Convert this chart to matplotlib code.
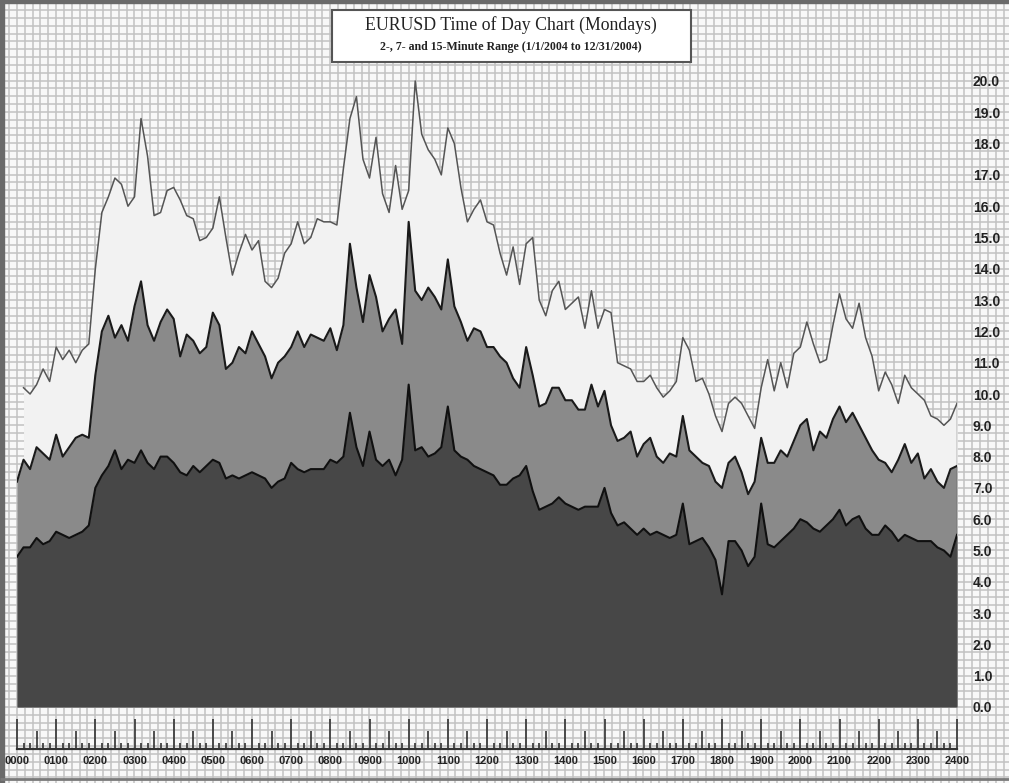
import numpy as np
import matplotlib.pyplot as plt
from matplotlib.patches import Rectangle

# minutes after midnight, one reading every 10 minutes (0000 .. 2400)
minutes = np.arange(0, 1441, 10)

# average 15-minute range (pips); first bar has no 15-minute value yet
range_15 = [None,
            10.2, 10.0, 10.3, 10.8, 10.4, 11.5, 11.1, 11.4, 11.0, 11.4,
            11.6, 14.0, 15.8, 16.3, 16.9, 16.7, 16.0, 16.3, 18.8, 17.6,
            15.7, 15.8, 16.5, 16.6, 16.2, 15.7, 15.6, 14.9, 15.0, 15.3,
            16.3, 15.0, 13.8, 14.5, 15.1, 14.6, 14.9, 13.6, 13.4, 13.7,
            14.5, 14.8, 15.5, 14.8, 15.0, 15.6, 15.5, 15.5, 15.4, 17.2,
            18.8, 19.5, 17.5, 16.9, 18.2, 16.4, 15.8, 17.3, 15.9, 16.5,
            20.0, 18.3, 17.8, 17.5, 17.0, 18.5, 18.0, 16.6, 15.5, 15.9,
            16.2, 15.5, 15.4, 14.5, 13.8, 14.7, 13.5, 14.8, 15.0, 13.0,
            12.5, 13.3, 13.6, 12.7, 12.9, 13.1, 12.1, 13.3, 12.1, 12.7,
            12.6, 11.0, 10.9, 10.8, 10.4, 10.4, 10.6, 10.2, 9.9, 10.1,
            10.4, 11.8, 11.4, 10.4, 10.5, 10.0, 9.3, 8.8, 9.7, 9.9,
            9.7, 9.3, 8.9, 10.2, 11.1, 10.1, 11.0, 10.2, 11.3, 11.5,
            12.3, 11.6, 11.0, 11.1, 12.2, 13.2, 12.4, 12.1, 12.9, 11.8,
            11.2, 10.1, 10.7, 10.3, 9.7, 10.6, 10.2, 10.0, 9.8, 9.3,
            9.2, 9.0, 9.2, 9.7]

# average 7-minute range
range_7 = [7.2, 7.9, 7.6, 8.3, 8.1, 7.9, 8.7, 8.0, 8.3, 8.6, 8.7,
           8.6, 10.6, 12.0, 12.5, 11.8, 12.2, 11.7, 12.8, 13.6, 12.2,
           11.7, 12.3, 12.7, 12.4, 11.2, 11.9, 11.7, 11.3, 11.5, 12.6,
           12.2, 10.8, 11.0, 11.5, 11.3, 12.0, 11.6, 11.2, 10.5, 11.0,
           11.2, 11.5, 12.0, 11.5, 11.9, 11.8, 11.7, 12.1, 11.4, 12.2,
           14.8, 13.4, 12.3, 13.8, 13.1, 12.0, 12.4, 12.7, 11.6, 15.5,
           13.3, 13.0, 13.4, 13.1, 12.7, 14.3, 12.8, 12.3, 11.7, 12.1,
           12.0, 11.5, 11.5, 11.2, 11.0, 10.5, 10.2, 11.5, 10.6, 9.6,
           9.7, 10.2, 10.2, 9.8, 9.8, 9.5, 9.5, 10.3, 9.6, 10.1,
           9.0, 8.5, 8.6, 8.8, 8.0, 8.4, 8.6, 8.0, 7.8, 8.1,
           8.0, 9.3, 8.2, 8.0, 7.8, 7.7, 7.2, 7.0, 7.8, 8.0,
           7.5, 6.8, 7.2, 8.6, 7.8, 7.8, 8.2, 8.0, 8.5, 9.0,
           9.2, 8.2, 8.8, 8.6, 9.2, 9.6, 9.1, 9.4, 9.0, 8.6,
           8.2, 7.9, 7.8, 7.5, 7.9, 8.4, 7.8, 8.1, 7.3, 7.6,
           7.2, 7.0, 7.6, 7.7]

# average 2-minute range
range_2 = [4.8, 5.1, 5.1, 5.4, 5.2, 5.3, 5.6, 5.5, 5.4, 5.5, 5.6,
           5.8, 7.0, 7.4, 7.7, 8.2, 7.6, 7.9, 7.8, 8.2, 7.8,
           7.6, 8.0, 8.0, 7.8, 7.5, 7.4, 7.7, 7.5, 7.7, 7.9,
           7.8, 7.3, 7.4, 7.3, 7.4, 7.5, 7.4, 7.3, 7.0, 7.2,
           7.3, 7.8, 7.6, 7.5, 7.6, 7.6, 7.6, 7.9, 7.8, 8.0,
           9.4, 8.3, 7.7, 8.8, 7.9, 7.7, 7.9, 7.4, 7.9, 10.3,
           8.2, 8.3, 8.0, 8.1, 8.3, 9.6, 8.2, 8.0, 7.9, 7.7,
           7.6, 7.5, 7.4, 7.1, 7.1, 7.3, 7.4, 7.7, 6.9, 6.3,
           6.4, 6.5, 6.7, 6.5, 6.4, 6.3, 6.4, 6.4, 6.4, 7.0,
           6.2, 5.8, 5.9, 5.7, 5.5, 5.7, 5.5, 5.6, 5.5, 5.4,
           5.5, 6.5, 5.2, 5.3, 5.4, 5.1, 4.7, 3.6, 5.3, 5.3,
           5.0, 4.5, 4.8, 6.5, 5.2, 5.1, 5.3, 5.5, 5.7, 6.0,
           5.9, 5.7, 5.6, 5.8, 6.0, 6.3, 5.8, 6.0, 6.1, 5.7,
           5.5, 5.5, 5.8, 5.6, 5.3, 5.5, 5.4, 5.3, 5.3, 5.3,
           5.1, 5.0, 4.8, 5.5]

hour_labels = ["%02d00" % h for h in range(25)]
y_ticks = list(range(0, 21))

title = "EURUSD Time of Day Chart (Mondays)"
subtitle = "2-, 7- and 15-Minute Range (1/1/2004 to 12/31/2004)"

sans = ["Liberation Sans", "DejaVu Sans"]
serif = ["Liberation Serif", "DejaVu Serif"]

W, H = 1009, 783
fig = plt.figure(figsize=(W / 100, H / 100), dpi=100)
fig.patch.set_facecolor("#f8f8f8")

# graph paper background + frame, in pixel coordinates
bg = fig.add_axes([0, 0, 1, 1])
bg.set_xlim(0, W)
bg.set_ylim(H, 0)
bg.axis("off")
step = 7.83
bg.vlines(np.arange(17 % step, W, step), 0, H, color="#c2c2c2", lw=1.1, zorder=1)
bg.hlines(np.arange(707 % step, H, step), 0, W, color="#c2c2c2", lw=1.1, zorder=1)
bg.add_patch(Rectangle((0, 0), 4, H, color="#6a6a6a", zorder=3))
bg.add_patch(Rectangle((0, 0), W, 3, color="#6a6a6a", zorder=3))
bg.hlines(779, 0, W, color="#7a7a7a", lw=2, zorder=3)

bg.add_patch(Rectangle((332, 10), 359, 52, facecolor="white",
                       edgecolor="#555555", lw=1.5, zorder=5))
bg.text(511, 25, title, ha="center", va="center", fontsize=12.8,
        family=serif, color="#222222", zorder=6)
bg.text(511, 47, subtitle, ha="center", va="center", fontsize=8.6,
        family=serif, fontweight="bold", color="#222222", zorder=6)

# main plot area: 0.0 at y=707px, 31.3 px per pip
ymax = 21
top_px = 707 - ymax * 31.3
ax = fig.add_axes([17 / W, (H - 707) / H, 940 / W, (707 - top_px) / H])
ax.set_facecolor("none")
ax.set_xlim(0, 1440)
ax.set_ylim(0, ymax)
for s in ax.spines.values():
    s.set_visible(False)
ax.set_xticks([])

r15 = np.array(range_15, dtype=float)
r7 = np.array(range_7, dtype=float)
r2 = np.array(range_2, dtype=float)

ax.fill_between(minutes, 0, r15, color="#f2f2f2", lw=0)
ax.plot(minutes, r15, color="#555555", lw=1.1)
ax.vlines(minutes[-1], 0, r15[-1], color="#555555", lw=1.0)
ax.fill_between(minutes, 0, r7, color="#8a8a8a", lw=0)
ax.plot(minutes, r7, color="#1a1a1a", lw=1.5)
ax.fill_between(minutes, 0, r2, color="#474747", lw=0)
ax.plot(minutes, r2, color="#101010", lw=1.5)

ax.yaxis.tick_right()
ax.set_yticks(y_ticks)
ax.set_yticklabels(["%.1f" % v for v in y_ticks])
ax.tick_params(axis="y", length=0, pad=11.5)
for lab in ax.get_yticklabels():
    lab.set_family(sans)
    lab.set_fontweight("bold")
    lab.set_fontsize(10)
    lab.set_color("#222222")

# time axis strip below the chart
tx = fig.add_axes([17 / W, (H - 749) / H, 940 / W, 42 / H])
tx.set_facecolor("none")
tx.set_xlim(0, 1440)
tx.set_ylim(0, 42)
for name in ["top", "left", "right"]:
    tx.spines[name].set_visible(False)
tx.spines["bottom"].set_linewidth(1.6)
tx.spines["bottom"].set_color("#333333")
tx.set_yticks([])

ticks = np.arange(0, 1441, 10)
tx.vlines(ticks[ticks % 60 == 0], 0, 30, color="#333333", lw=1.2, clip_on=False)
tx.vlines(ticks[ticks % 60 == 30], 0, 18, color="#333333", lw=1.2)
tx.vlines(ticks[ticks % 30 != 0], 0, 6, color="#333333", lw=1.2)

tx.set_xticks(ticks[ticks % 60 == 0])
tx.set_xticklabels(hour_labels)
tx.tick_params(axis="x", length=0, pad=5)
for lab in tx.get_xticklabels():
    lab.set_family(sans)
    lab.set_fontweight("bold")
    lab.set_fontsize(8)
    lab.set_color("#222222")

fig.savefig("out.png", dpi=100, facecolor=fig.get_facecolor())
